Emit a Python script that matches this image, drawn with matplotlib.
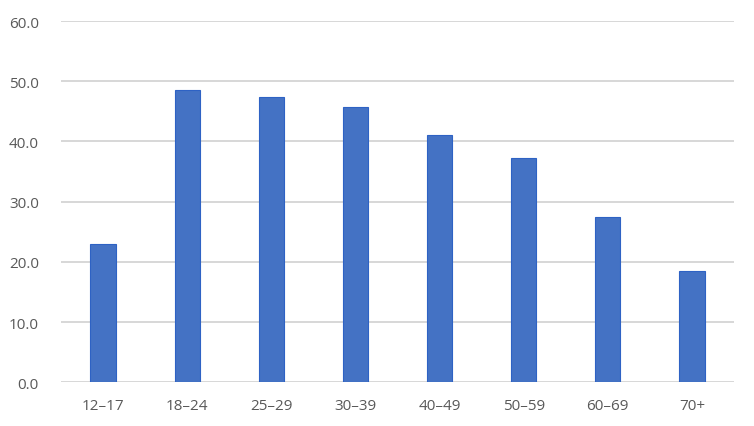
import matplotlib
matplotlib.use("Agg")
import matplotlib.pyplot as plt
import numpy as np

categories = ["12\u201317", "18\u201324", "25\u201329", "30\u201339", "40\u201349", "50\u201359", "60\u201369", "70+"]
values = [23.0, 48.5, 47.4, 45.8, 41.0, 37.3, 27.4, 18.5]
yticks = [0, 10, 20, 30, 40, 50, 60]

plt.rcParams['font.family'] = ['Open Sans', 'DejaVu Sans']

fig = plt.figure(figsize=(7.54, 4.27), dpi=100)
ax = fig.add_axes([61/754, (427-383.3)/427, (734-61)/754, (383.3-22)/427])

x = np.arange(len(categories))
ax.bar(x, values, width=0.3, color="#4472C4", edgecolor="#2E62C4", linewidth=0.8, zorder=3)

ax.set_xlim(-0.5, len(categories)-0.5)
ax.set_ylim(0, 60)
ax.set_yticks(yticks)
ax.set_yticklabels([f"{v:.1f}" for v in yticks])
ax.set_xticks(x)
ax.set_xticklabels(categories)
ax.grid(axis='y', color="#D4D4D4", linewidth=1.3, zorder=0)
for s in ax.spines.values():
    s.set_visible(False)
ax.tick_params(axis='both', length=0, labelsize=11, colors="#595959")
ax.tick_params(axis='y', pad=16)
ax.tick_params(axis='x', pad=11)

fig.savefig("out.png", dpi=100)
